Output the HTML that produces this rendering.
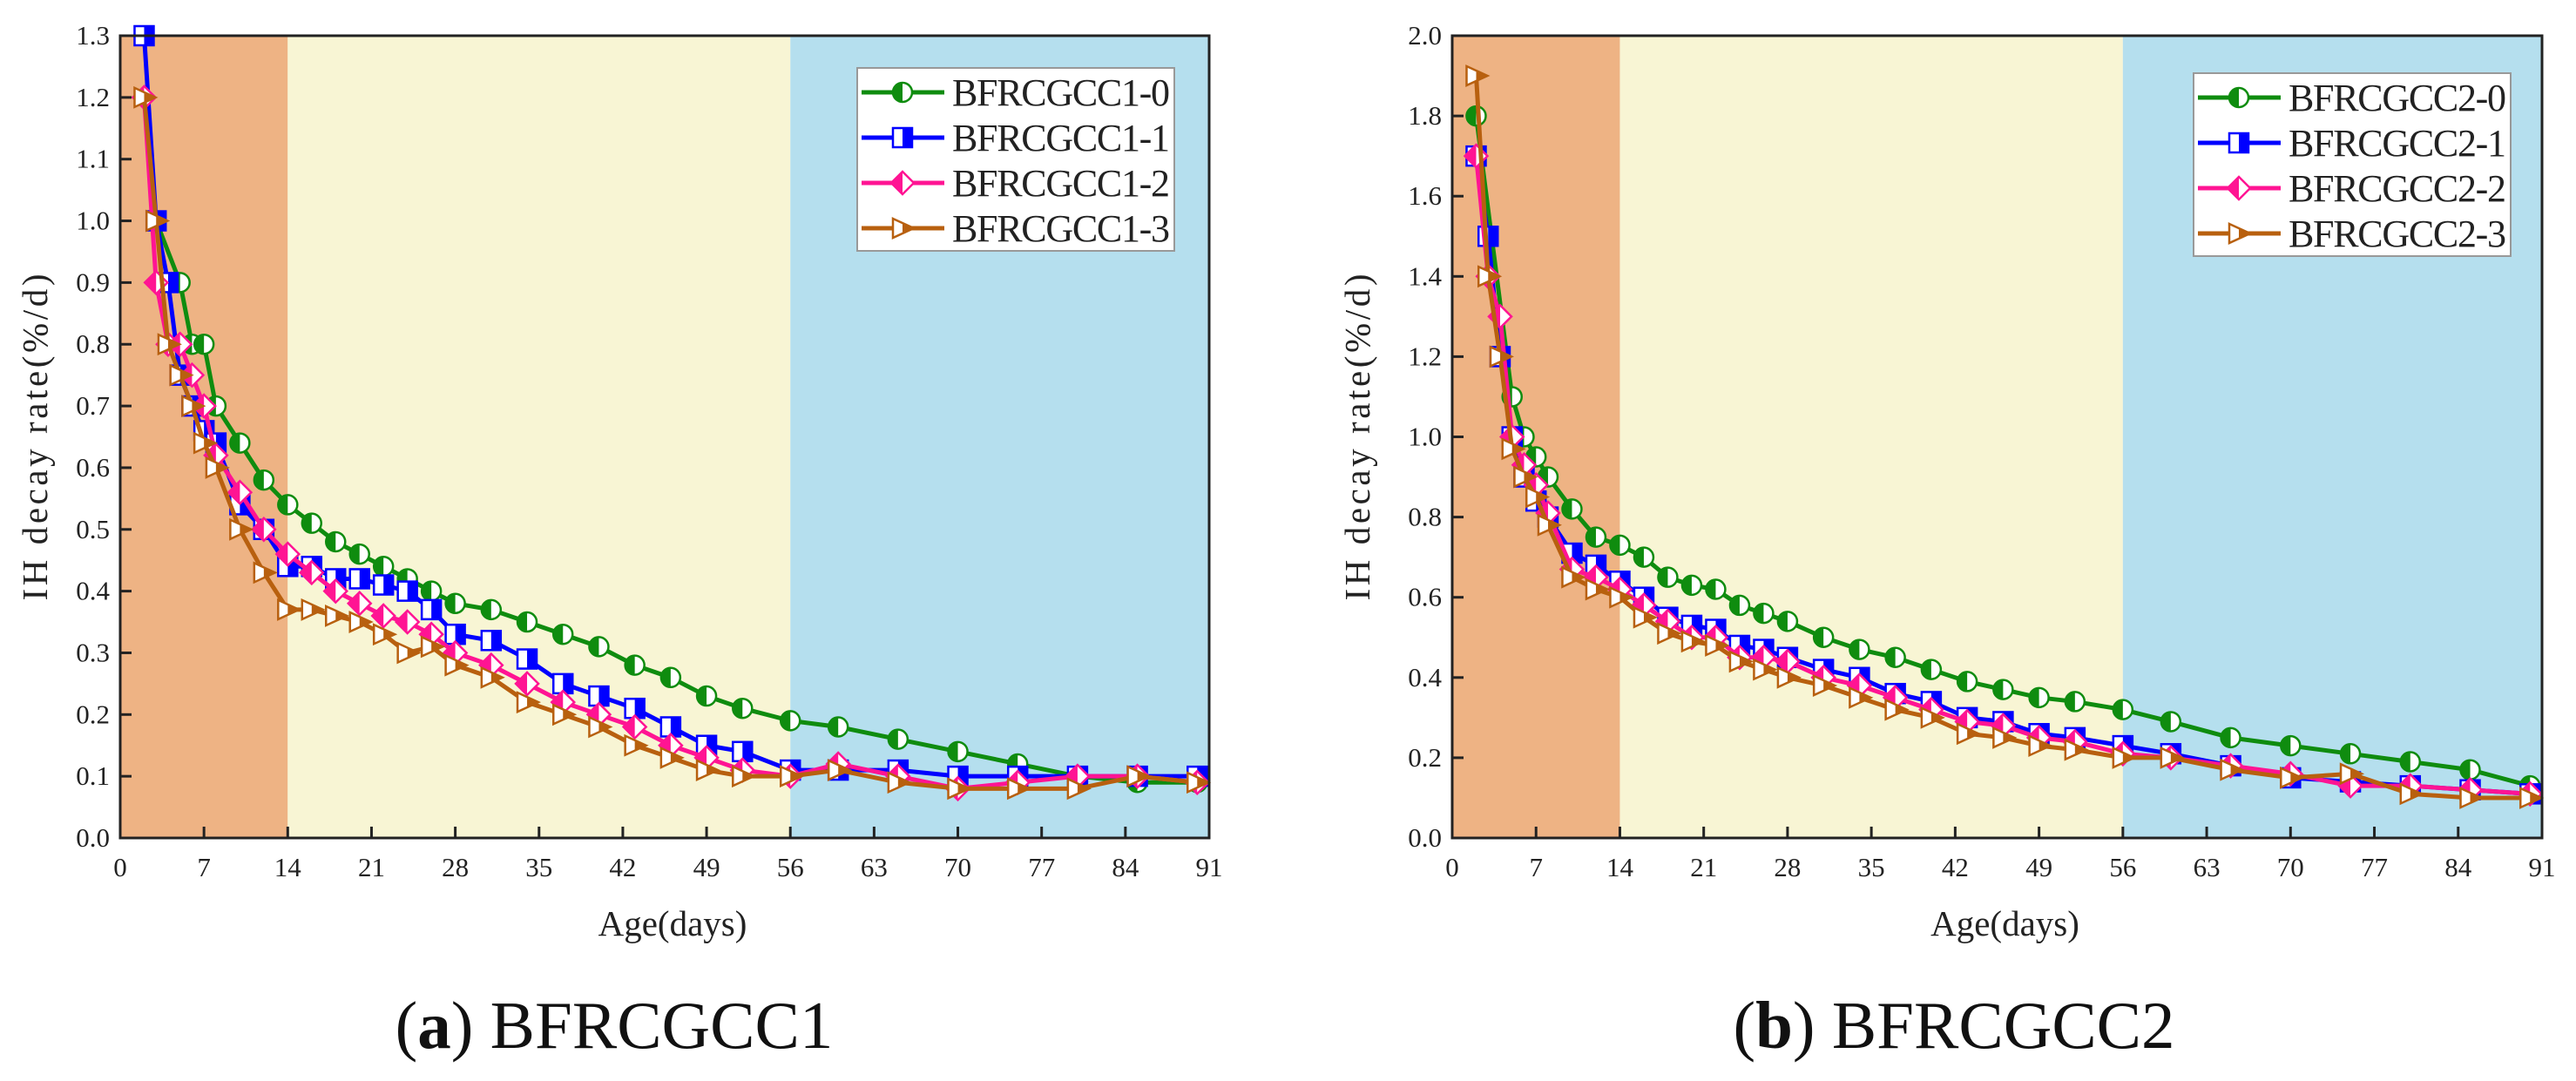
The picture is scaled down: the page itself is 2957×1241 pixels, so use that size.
<!DOCTYPE html>
<html><head><meta charset="utf-8"><style>
html,body{margin:0;padding:0;background:#fff;}
svg{display:block;font-family:"Liberation Serif",serif;}
</style></head><body>
<svg id="fig" width="2957" height="1241" viewBox="0 0 2957 1241" xmlns="http://www.w3.org/2000/svg"></svg>
<script>
const daysA=[2,3,4,5,6,7,8,10,12,14,16,18,20,22,24,26,28,31,34,37,40,43,46,49,52,56,60,65,70,75,80,85,90];
const daysA0=[3,5,6,7,8,10,12,14,16,18,20,22,24,26,28,31,34,37,40,43,46,49,52,56,60,65,70,75,80,85,90];
const a0=[1.0,0.9,0.8,0.8,0.7,0.64,0.58,0.54,0.51,0.48,0.46,0.44,0.42,0.4,0.38,0.37,0.35,0.33,0.31,0.28,0.26,0.23,0.21,0.19,0.18,0.16,0.14,0.12,0.1,0.09,0.09];
const a1=[1.3,1.0,0.9,0.75,0.7,0.66,0.64,0.54,0.5,0.44,0.44,0.42,0.42,0.41,0.4,0.37,0.33,0.32,0.29,0.25,0.23,0.21,0.18,0.15,0.14,0.11,0.11,0.11,0.1,0.1,0.1,0.1,0.1];
const a2=[1.2,0.9,0.8,0.8,0.75,0.7,0.62,0.56,0.5,0.46,0.43,0.4,0.38,0.36,0.35,0.33,0.3,0.28,0.25,0.22,0.2,0.18,0.15,0.13,0.11,0.1,0.12,0.1,0.08,0.09,0.1,0.1,0.09];
const a3=[1.2,1.0,0.8,0.75,0.7,0.64,0.6,0.5,0.43,0.37,0.37,0.36,0.35,0.33,0.3,0.31,0.28,0.26,0.22,0.2,0.18,0.15,0.13,0.11,0.1,0.1,0.11,0.09,0.08,0.08,0.08,0.1,0.09];
const daysB=[2,3,4,5,6,7,8,10,12,14,16,18,20,22,24,26,28,31,34,37,40,43,46,49,52,56,60,65,70,75,80,85,90];
const daysB0=[2,5,6,7,8,10,12,14,16,18,20,22,24,26,28,31,34,37,40,43,46,49,52,56,60,65,70,75,80,85,90];
const b0=[1.8,1.1,1.0,0.95,0.9,0.82,0.75,0.73,0.7,0.65,0.63,0.62,0.58,0.56,0.54,0.5,0.47,0.45,0.42,0.39,0.37,0.35,0.34,0.32,0.29,0.25,0.23,0.21,0.19,0.17,0.13];
const b1=[1.7,1.5,1.2,1.0,0.9,0.84,0.8,0.71,0.68,0.64,0.6,0.55,0.53,0.52,0.48,0.47,0.45,0.42,0.4,0.36,0.34,0.3,0.29,0.26,0.25,0.23,0.21,0.18,0.15,0.14,0.13,0.12,0.11];
const b2=[1.7,1.4,1.3,1.0,0.93,0.88,0.81,0.67,0.65,0.62,0.58,0.54,0.5,0.5,0.45,0.45,0.44,0.4,0.38,0.35,0.32,0.29,0.28,0.25,0.24,0.21,0.2,0.18,0.16,0.13,0.13,0.12,0.11];
const b3=[1.9,1.4,1.2,0.97,0.9,0.85,0.78,0.65,0.62,0.6,0.55,0.51,0.49,0.48,0.44,0.42,0.4,0.38,0.35,0.32,0.3,0.26,0.25,0.23,0.22,0.2,0.2,0.17,0.15,0.16,0.11,0.1,0.1];
const xTicks=[0,7,14,21,28,35,42,49,56,63,70,77,84,91];
const yTicksA=[0,0.1,0.2,0.3,0.4,0.5,0.6,0.7,0.8,0.9,1.0,1.1,1.2,1.3];
const yTicksB=[0,0.2,0.4,0.6,0.8,1.0,1.2,1.4,1.6,1.8,2.0];
const namesA=["BFRCGCC1-0","BFRCGCC1-1","BFRCGCC1-2","BFRCGCC1-3"];
const namesB=["BFRCGCC2-0","BFRCGCC2-1","BFRCGCC2-2","BFRCGCC2-3"];
const colors=["#0f8c0f","#0000ff","#ff1493","#b8600f"];
const NS="http://www.w3.org/2000/svg";
const svg=document.getElementById('fig');
function mk(tag,attrs,parent){const e=document.createElementNS(NS,tag);for(const k in attrs)e.setAttribute(k,attrs[k]);(parent||svg).appendChild(e);return e;}
function marker(g,type,cx,cy,col){
  const r=11;
  if(type===0){
    mk('circle',{cx,cy,r,fill:'#fff',stroke:col,'stroke-width':2.5},g);
    mk('path',{d:`M${cx},${cy-r}A${r},${r} 0 0 0 ${cx},${cy+r}Z`,fill:col},g);
  }else if(type===1){
    mk('rect',{x:cx-r,y:cy-r,width:2*r,height:2*r,fill:'#fff',stroke:col,'stroke-width':2.5},g);
    mk('rect',{x:cx,y:cy-r,width:r,height:2*r,fill:col},g);
  }else if(type===2){
    mk('path',{d:`M${cx},${cy-r-2}L${cx+r+2},${cy}L${cx},${cy+r+2}L${cx-r-2},${cy}Z`,fill:'#fff',stroke:col,'stroke-width':2.5},g);
    mk('path',{d:`M${cx},${cy-r-2}L${cx-r-2},${cy}L${cx},${cy+r+2}Z`,fill:col},g);
  }else{
    mk('path',{d:`M${cx-r},${cy-r}L${cx+r+2},${cy}L${cx-r},${cy+r}Z`,fill:'#fff',stroke:col,'stroke-width':2.5},g);
    mk('path',{d:`M${cx},${cy-r/2}L${cx+r+2},${cy}L${cx},${cy+r/2}Z`,fill:col},g);
  }
}
function chart(o){
  const {x0,x1,y0,y1,ymax,yTicks,series,names,id}=o;
  const X=d=>x0+(d/91)*(x1-x0), Y=v=>y0-(v/ymax)*(y0-y1);
  const g=mk('g',{});
  
  
  const bands=[[0,14,'#eeb384','band-early'],[14,56,'#f8f5d4','band-middle'],[56,91,'#b5dfee','band-late']];
  bands.forEach(b=>{const r=mk('rect',{x:X(b[0]),y:y1,width:X(b[1])-X(b[0]),height:y0-y1,fill:b[2]},g);
    });
  series.forEach((s,i)=>{
    const sg=mk('g',{},g);
    
    
    mk('polyline',{points:s.x.map((d,j)=>X(d)+','+Y(s.y[j])).join(' '),fill:'none',stroke:colors[i],'stroke-width':5,'stroke-linejoin':'round'},sg);
    s.x.forEach((d,j)=>marker(sg,i,X(d),Y(s.y[j]),colors[i]));
  });
  mk('rect',{x:x0,y:y1,width:x1-x0,height:y0-y1,fill:'none',stroke:'#222','stroke-width':3},g);
  xTicks.forEach(t=>{
    mk('line',{x1:X(t),x2:X(t),y1:y0,y2:y0-13,stroke:'#222','stroke-width':3},g);
    const tx=mk('text',{x:X(t),y:y0+44,'text-anchor':'middle','font-size':31,fill:'#222'},g);tx.textContent=t;
  });
  yTicks.forEach(t=>{
    mk('line',{x1:x0,x2:x0+13,y1:Y(t),y2:Y(t),stroke:'#222','stroke-width':3},g);
    const tx=mk('text',{x:x0-12,y:Y(t)+10,'text-anchor':'end','font-size':31,fill:'#222'},g);tx.textContent=t.toFixed(1);
  });
  const xt=mk('text',{x:(x0+x1)/2+9,y:1074,'text-anchor':'middle','font-size':41,fill:'#222'},g);xt.textContent='Age(days)';
  
  const yt=mk('text',{x:0,y:0,'text-anchor':'middle','font-size':41,fill:'#222',textLength:375,transform:`translate(${o.ytx},502) rotate(-90)`},g);yt.textContent='IH decay rate(%/d)';
  
  const lg=mk('g',{},g);
  
  
  mk('rect',{x:o.lx,y:o.ly,width:364,height:210,fill:'#fff',stroke:'#999','stroke-width':2},lg);
  names.forEach((n,i)=>{
    const cy=o.ly+28+i*52;
    const eg=mk('g',{},lg);
    
    
    mk('line',{x1:o.lx+5,x2:o.lx+100,y1:cy,y2:cy,stroke:colors[i],'stroke-width':5},eg);
    marker(eg,i,o.lx+52,cy,colors[i]);
    const t=mk('text',{x:o.lx+109,y:cy+15,'font-size':44,fill:'#222',textLength:250},eg);t.textContent=n;
  });
  const cap=mk('text',{x:o.cx,y:1203,'text-anchor':'middle','font-size':77,fill:'#111'},g);
  cap.innerHTML='(<tspan font-weight="bold">'+o.letter+'</tspan>) '+o.title;
  
}
chart({id:'chart-bfrcgcc1',x0:138,x1:1388,y0:962,y1:41,ymax:1.3,yTicks:yTicksA,names:namesA,
  series:[{x:daysA0,y:a0},{x:daysA,y:a1},{x:daysA,y:a2},{x:daysA,y:a3}],
  lx:984,ly:78,ytx:54,cx:705,letter:'a',title:'BFRCGCC1'});
chart({id:'chart-bfrcgcc2',x0:1667,x1:2918,y0:962,y1:41,ymax:2.0,yTicks:yTicksB,names:namesB,
  series:[{x:daysB0,y:b0},{x:daysB,y:b1},{x:daysB,y:b2},{x:daysB,y:b3}],
  lx:2518,ly:84,ytx:1572,cx:2243,letter:'b',title:'BFRCGCC2'});
</script>
</body></html>
